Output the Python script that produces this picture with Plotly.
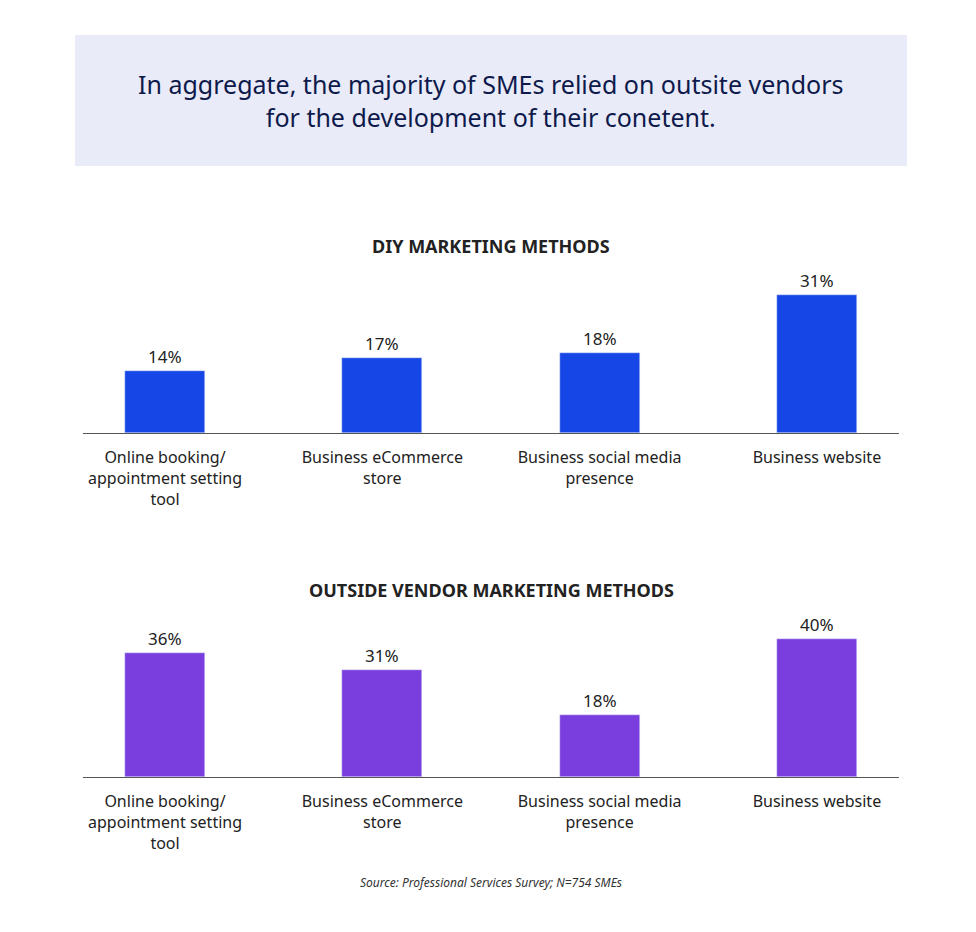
import plotly.graph_objects as go

categories = ["Online booking/<br>appointment setting<br>tool", "Business eCommerce<br>store",
              "Business social media<br>presence", "Business website"]
diy = [14, 17, 18, 31]
vendor = [36, 31, 18, 40]

W, H = 960, 916
OFF = 8
def py(p): return 1 - (p - OFF) / H
def px(p): return (p - OFF) / W

F = "Noto Sans"
fig = go.Figure()
xpos = [0, 1, 2, 3]
fig.add_trace(go.Bar(x=xpos, y=diy, marker_color="#1646E6", width=0.368,
                     text=[f"{v}%" for v in diy], textposition="outside",
                     textfont=dict(size=17, color="#222", family=F), cliponaxis=False,
                     xaxis="x", yaxis="y"))
fig.add_trace(go.Bar(x=xpos, y=vendor, marker_color="#7A3DDE", width=0.368,
                     text=[f"{v}%" for v in vendor], textposition="outside",
                     textfont=dict(size=17, color="#222", family=F), cliponaxis=False,
                     xaxis="x2", yaxis="y2"))

xr = [(83 - 165) / 217.3, (899 - 165) / 217.3]
axx = dict(range=xr, domain=[px(83), px(899)], tickvals=xpos, ticktext=categories,
           showline=True, linecolor="#555", linewidth=1, ticks="", showgrid=False,
           ticklabelstandoff=10,
           tickfont=dict(size=16, color="#222", family=F), fixedrange=True)
fig.update_layout(
    width=W, height=H, margin=dict(l=0, r=0, t=0, b=0), showlegend=False,
    plot_bgcolor="white", paper_bgcolor="white", bargap=0,
    xaxis=dict(axx, anchor="y"),
    xaxis2=dict(axx, anchor="y2"),
    yaxis=dict(domain=[py(433), py(253)], range=[0, 180 / 4.44], visible=False),
    yaxis2=dict(domain=[py(777), py(620)], range=[0, 157 / 3.45], visible=False),
)
fig.add_shape(type="rect", xref="paper", yref="paper", x0=px(75), x1=px(907),
              y0=py(166), y1=py(35), fillcolor="#E9EBF9", line_width=0, layer="below")
def ann(x, y, text, size, color="#222"):
    fig.add_annotation(xref="paper", yref="paper", x=px(x), y=py(y), showarrow=False,
                       xanchor="center", yanchor="middle", text=text,
                       font=dict(size=size, color=color, family=F))
ann(491, 100, "In aggregate, the majority of SMEs relied on outsite vendors<br>for the development of their conetent.", 25, "#0E1A4B")
ann(491, 246, "<b>DIY MARKETING METHODS</b>", 18)
ann(491, 590, "<b>OUTSIDE VENDOR MARKETING METHODS</b>", 18)
ann(491, 882, "<i>Source: Professional Services Survey; N=754 SMEs</i>", 12, "#333")
fig.write_html("out.html")
